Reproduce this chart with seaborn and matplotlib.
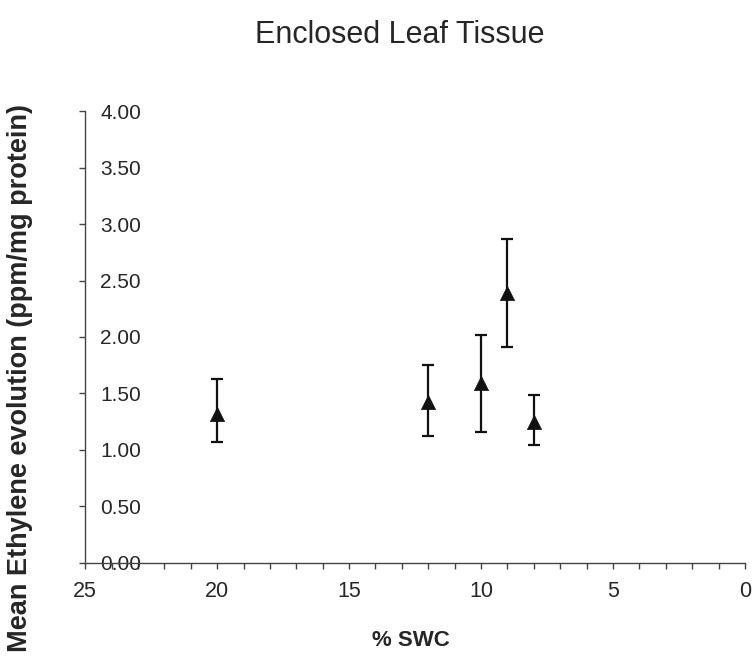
import numpy as np
import pandas as pd
import seaborn as sns
import matplotlib.pyplot as plt
from matplotlib.ticker import MultipleLocator, FormatStrFormatter

# % soil water content and mean ethylene evolution with error bar limits
swc = [20, 12, 10, 9, 8]
ethylene_mean = [1.32, 1.42, 1.59, 2.39, 1.25]
err_low = [1.07, 1.12, 1.16, 1.91, 1.04]
err_high = [1.63, 1.75, 2.02, 2.87, 1.49]

df = pd.DataFrame({"swc": swc, "mean": ethylene_mean, "low": err_low, "high": err_high})

sns.set_theme(style='ticks')
plt.rcParams['font.family'] = ['Liberation Sans', 'DejaVu Sans']
text_col = '#262626'

fig = plt.figure(figsize=(7.54, 6.66), dpi=100)
ax = fig.add_axes([0.113, 0.155, 0.875, 0.678])

yerr = np.array([df["mean"] - df["low"], df["high"] - df["mean"]])
ax.errorbar(df["swc"], df["mean"], yerr=yerr, fmt='none', ecolor='#111111',
            elinewidth=1.6, capsize=4.5, capthick=1.6, zorder=2)
sns.scatterplot(data=df, x="swc", y="mean", marker='^', s=105, color='#111111',
                edgecolor='#111111', linewidth=0.5, ax=ax, zorder=3, legend=False)

ax.set_xlim(25, 0)
ax.set_ylim(0, 4)
ax.xaxis.set_major_locator(MultipleLocator(5))
ax.xaxis.set_minor_locator(MultipleLocator(1))
ax.yaxis.set_major_locator(MultipleLocator(0.5))
ax.yaxis.set_major_formatter(FormatStrFormatter('%.2f'))

sns.despine(ax=ax)
for sp in ['left', 'bottom']:
    ax.spines[sp].set_color('#444444')
    ax.spines[sp].set_linewidth(1.0)

ax.tick_params(axis='x', which='both', direction='out', length=4, width=1,
               color='#444444', labelsize=15.5, labelcolor=text_col, pad=9)
ax.tick_params(axis='y', direction='out', length=4, width=1, color='#444444',
               labelsize=15, labelcolor=text_col, pad=-15)
for lab in ax.get_yticklabels():
    lab.set_horizontalalignment('left')

ax.set_xlabel('')
ax.set_ylabel('')
fig.text(0.53, 0.948, 'Enclosed Leaf Tissue', ha='center', va='center',
         fontsize=22, color=text_col)
fig.text(0.545, 0.038, '% SWC', ha='center', va='center', fontsize=16,
         fontweight='bold', color=text_col)
fig.text(0.026, 0.433, 'Mean Ethylene evolution (ppm/mg protein)', rotation=90,
         ha='center', va='center', fontsize=19.5, fontweight='bold', color=text_col)

fig.savefig('out.png', dpi=100)
